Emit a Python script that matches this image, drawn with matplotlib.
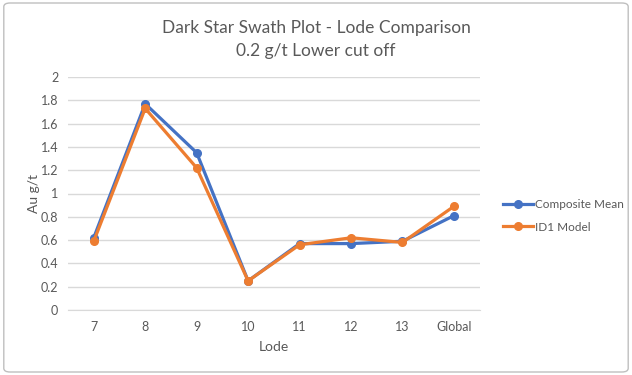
import matplotlib.pyplot as plt
from matplotlib.patches import FancyBboxPatch

plt.rcParams['font.family'] = ['Lato', 'DejaVu Sans']

lodes = ['7', '8', '9', '10', '11', '12', '13', 'Global']
composite_mean = [0.62, 1.77, 1.35, 0.25, 0.57, 0.57, 0.59, 0.81]
id1_model = [0.59, 1.73, 1.22, 0.25, 0.56, 0.62, 0.58, 0.89]
y_ticks = [0, 0.2, 0.4, 0.6, 0.8, 1, 1.2, 1.4, 1.6, 1.8, 2]

fig = plt.figure(figsize=(6.32, 3.75), dpi=100)
ax = fig.add_axes([0.1076, 0.1733, 0.6514, 0.6214])

x = list(range(len(lodes)))
ax.plot(x, composite_mean, color='#4472c4', lw=2.3, marker='o', ms=5.5,
        label='Composite Mean')
ax.plot(x, id1_model, color='#ed7d31', lw=2.3, marker='o', ms=5.5,
        label='ID1 Model')

ax.set_xlim(-0.5, len(lodes) - 0.5)
ax.set_ylim(0, 2)
ax.set_xticks(x)
ax.set_xticklabels(lodes)
ax.set_yticks(y_ticks)
ax.set_yticklabels(['%g' % t for t in y_ticks])
ax.grid(axis='y', color='#d9d9d9', lw=1)
ax.set_axisbelow(True)
for s in ['top', 'right', 'left']:
    ax.spines[s].set_visible(False)
ax.spines['bottom'].set_color('#d9d9d9')
ax.tick_params(length=0, colors='#595959', labelsize=9, pad=8)
ax.tick_params(axis='y', pad=7)

ax.set_xlabel('Lode', color='#595959', fontsize=10, labelpad=6)
ax.set_ylabel('Au g/t', color='#595959', fontsize=10)
ax.yaxis.set_label_coords(-0.068, 0.5)
fig.text(0.5, 0.925, 'Dark Star Swath Plot - Lode Comparison',
         ha='center', va='center', fontsize=12.5, color='#595959')
fig.text(0.5, 0.865, '0.2 g/t Lower cut off',
         ha='center', va='center', fontsize=12.5, color='#595959')

leg = ax.legend(loc='center left', bbox_to_anchor=(1.03, 0.405), frameon=False,
                fontsize=8.5, handlelength=2.6, handletextpad=0.1,
                labelspacing=1.0)
for t in leg.get_texts():
    t.set_color('#595959')

border = FancyBboxPatch((0.006, 0.008), 0.988, 0.984,
                        boxstyle='round,pad=0,rounding_size=0.01',
                        transform=fig.transFigure, fill=False,
                        edgecolor='#bfbfbf', lw=1)
fig.patches.append(border)

fig.savefig('out.png', dpi=100)
